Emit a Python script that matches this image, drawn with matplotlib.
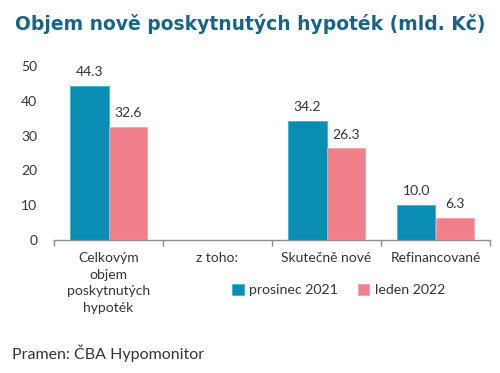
import numpy as np
import matplotlib.pyplot as plt

# data
categories = ['Celkovým\nobjem\nposkytnutých\nhypoték', 'z toho:', 'Skutečně nové', 'Refinancované']
prosinec = [44.3, np.nan, 34.2, 10.0]
leden = [32.6, np.nan, 26.3, 6.3]
series_names = ['prosinec 2021', 'leden 2022']

c_teal = '#0a8db3'
c_pink = '#f2808b'
txt = '#333333'

plt.rcParams['font.family'] = ['Lato', 'DejaVu Sans']

fig = plt.figure(figsize=(5.0, 3.73), dpi=100)
ax = fig.add_axes([0.108, 0.357, 0.872, 0.466])

x = np.arange(len(categories))
w = 0.355
b1 = ax.bar(x - w/2, prosinec, w, color=c_teal, edgecolor='#3fb0d0', linewidth=0.6, label=series_names[0])
b2 = ax.bar(x + w/2, leden, w, color=c_pink, edgecolor='#f6a0a8', linewidth=0.6, label=series_names[1])

for bars, vals in ((b1, prosinec), (b2, leden)):
    for r, v in zip(bars, vals):
        if np.isnan(v):
            continue
        ax.text(r.get_x() + r.get_width()/2, v + 2.2, f'{v:.1f}', ha='center', va='bottom',
                fontsize=10, color=txt)

ax.set_xlim(-0.5, len(categories) - 0.5)
ax.set_ylim(0, 50)
ax.set_yticks(range(0, 51, 10))
ax.tick_params(axis='y', length=0, pad=12, labelsize=10, labelcolor=txt)

for s in ('top', 'right', 'left'):
    ax.spines[s].set_visible(False)
ax.spines['bottom'].set_color('#8c8c8c')
ax.spines['bottom'].set_linewidth(1.0)

ax.set_xticks(np.arange(-0.5, len(categories), 1.0))
ax.set_xticklabels([])
ax.tick_params(axis='x', length=4, color='#8c8c8c', width=1.0)
for i, c in enumerate(categories):
    ax.text(i, -3.5, c, ha='center', va='top', fontsize=10, color=txt,
            linespacing=1.45, transform=ax.transData)

ax.legend(loc='upper left', bbox_to_anchor=(0.38, -0.18), ncol=2, frameon=False,
          fontsize=10.2, handlelength=0.8, handleheight=0.8, handletextpad=0.4,
          columnspacing=1.4, labelcolor=txt)

fig.text(0.03, 0.935, 'Objem nově poskytnutých hypoték (mld. Kč)', fontsize=13.5, fontweight='bold',
         family='DejaVu Sans', color='#1a6482', va='center', ha='left')
fig.text(0.024, 0.052, 'Pramen: ČBA Hypomonitor', fontsize=11.5, color=txt, va='center', ha='left')

fig.savefig('out.png', dpi=100)
